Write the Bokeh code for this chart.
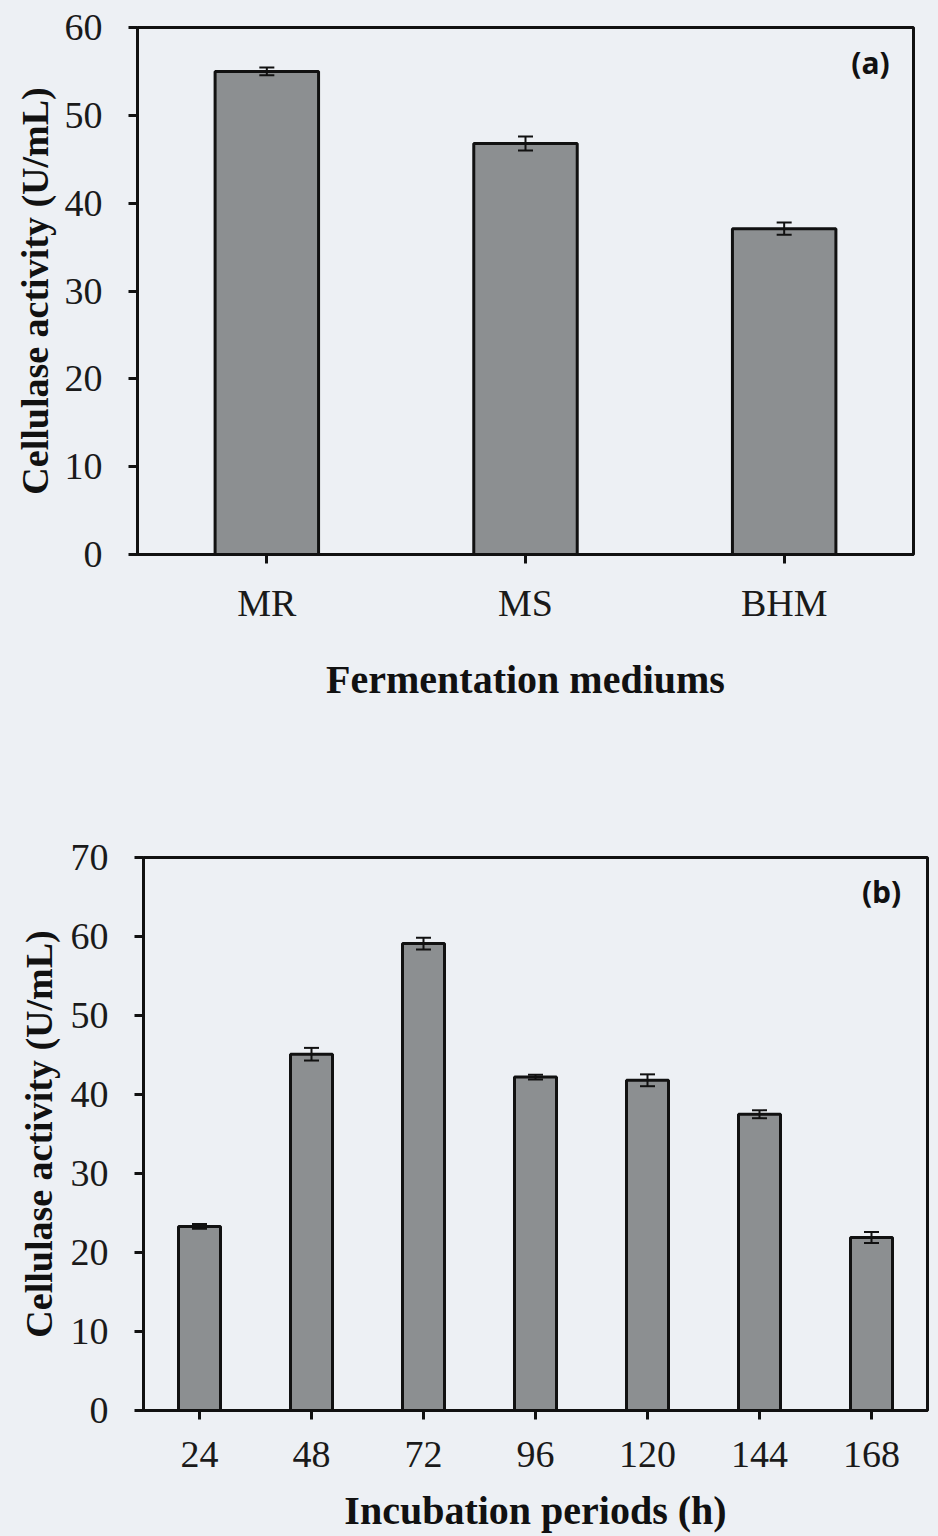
from bokeh.plotting import figure
from bokeh.models import ColumnDataSource, Range1d, FactorRange, SingleIntervalTicker, Whisker, TeeHead, Label
from bokeh.layouts import column, row
from bokeh.embed import file_html
from bokeh.resources import INLINE

# ---- data ----
media = ["MR", "MS", "BHM"]
media_activity = [55.0, 46.8, 37.1]
media_err = [0.45, 0.8, 0.7]

periods = ["24", "48", "72", "96", "120", "144", "168"]
period_activity = [23.3, 45.1, 59.1, 42.2, 41.8, 37.5, 21.9]
period_err = [0.3, 0.8, 0.75, 0.3, 0.75, 0.5, 0.7]

BG = "#edf0f4"
BAR = "#8c8f91"
SERIF = "Liberation Serif"


def make_panel(cats, vals, errs, ymax, width_frac, xlabel, tag, tag_x, tag_y,
               height, left, right, top, bottom, tick_standoff, label_standoff,
               y_tick_standoff, y_label_standoff):
    src = ColumnDataSource(dict(
        cat=cats, val=vals,
        upper=[v + e for v, e in zip(vals, errs)],
        lower=[v - e for v, e in zip(vals, errs)],
    ))
    p = figure(x_range=FactorRange(*cats), y_range=Range1d(0, ymax),
               width=938, height=height, output_backend="svg",
               toolbar_location=None, tools="",
               min_border_left=left, min_border_right=right,
               min_border_top=top, min_border_bottom=bottom)
    p.background_fill_color = BG
    p.border_fill_color = BG
    p.outline_line_color = "#111111"
    p.outline_line_width = 3
    p.xgrid.visible = False
    p.ygrid.visible = False

    p.vbar(x="cat", top="val", width=width_frac, source=src,
           fill_color=BAR, line_color="#111111", line_width=3)

    w = Whisker(base="cat", upper="upper", lower="lower", source=src,
                line_color="#111111", line_width=2, level="overlay",
                upper_head=TeeHead(size=15, line_width=2, line_color="#111111"),
                lower_head=TeeHead(size=15, line_width=2, line_color="#111111"))
    p.add_layout(w)

    p.yaxis.ticker = SingleIntervalTicker(interval=10)
    for ax in (p.xaxis[0], p.yaxis[0]):
        ax.axis_line_width = 3
        ax.axis_line_color = "#111111"
        ax.major_tick_line_width = 3
        ax.major_tick_line_color = "#111111"
        ax.major_tick_in = 0
        ax.major_tick_out = 9
        ax.minor_tick_line_color = None
        ax.major_label_text_font = SERIF
        ax.major_label_text_font_size = "38px"
        ax.major_label_text_color = "#1a1a1a"
        ax.axis_label_text_font = SERIF
        ax.axis_label_text_font_style = "bold"
        ax.axis_label_text_color = "#111111"
    p.yaxis.major_label_standoff = y_tick_standoff
    p.yaxis.axis_label = "Cellulase activity (U/mL)"
    p.yaxis.axis_label_text_font_size = "38px"
    p.yaxis.axis_label_standoff = y_label_standoff
    p.xaxis.major_label_standoff = tick_standoff
    p.xaxis.axis_label = xlabel
    p.xaxis.axis_label_text_font_size = "40px"
    p.xaxis.axis_label_standoff = label_standoff

    p.add_layout(Label(x=tag_x, y=tag_y, text=tag, text_font="Open Sans",
                       text_font_style="bold", text_font_size="30px",
                       text_color="#111111", text_align="center",
                       text_baseline="middle"))
    return p


pa = make_panel(media, media_activity, media_err, 60, 0.4,
                "Fermentation mediums", "(a)", 2.834, 56.0,
                height=800, left=137, right=25, top=27, bottom=246,
                tick_standoff=18, label_standoff=30,
                y_tick_standoff=26, y_label_standoff=6)
pb = make_panel(periods, period_activity, period_err, 70, 0.375,
                "Incubation periods (h)", "(b)", 6.59, 65.7,
                height=736, left=143, right=11, top=57, bottom=126,
                tick_standoff=22, label_standoff=18,
                y_tick_standoff=26, y_label_standoff=8)

layout = column(row(pa), row(pb), spacing=0, styles={"background-color": BG})
open("out.html", "w").write(file_html(layout, INLINE))
